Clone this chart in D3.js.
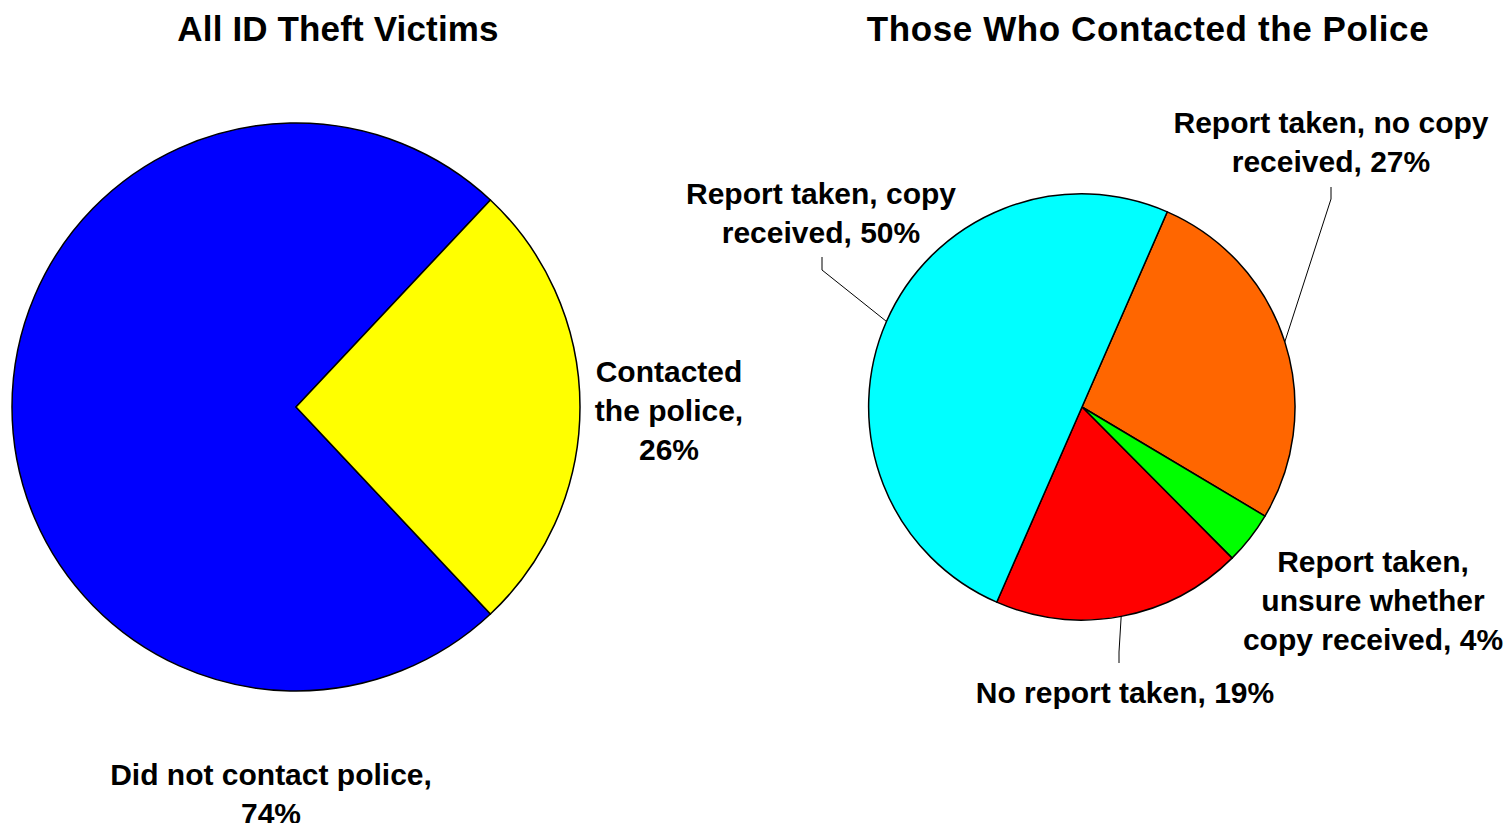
<!DOCTYPE html>
<html><head><meta charset="utf-8">
<script src="https://cdn.jsdelivr.net/npm/d3@7"></script>
<style>body{margin:0;background:#fff}svg{display:block}text{font-family:"Liberation Sans",Arial,sans-serif;font-weight:bold;fill:#000}</style>
</head><body>
<svg id="c" width="1507" height="823"></svg>
<script>
// Data
const leftTitle = "All ID Theft Victims";
const leftCategories = ["Did not contact police", "Contacted the police"];
const leftValues = [74, 26];
const leftColors = ["#0000FF", "#FFFF00"];
const leftLabels = [["Did not contact police,", "74%"], ["Contacted", "the police,", "26%"]];

const rightTitle = "Those Who Contacted the Police";
const rightCategories = ["Report taken, no copy received", "Report taken, unsure whether copy received", "No report taken", "Report taken, copy received"];
const rightValues = [27, 4, 19, 50];
const rightColors = ["#FF6600", "#00FF00", "#FF0000", "#00FFFF"];
const rightLabels = [["Report taken, no copy", "received, 27%"], ["Report taken,", "unsure whether", "copy received, 4%"], ["No report taken, 19%"], ["Report taken, copy", "received, 50%"]];

// Layout (separate from data)
const layout = {
  left: {cx: 296, cy: 407, r: 284, start: 136.8, titleX: 338, titleY: 41, titleLS: 0.15,
         labels: [{x: 271, y: 774}, {x: 669, y: 371}], leaders: [null, null]},
  right: {cx: 1082, cy: 407, r: 213, start: 23.6, titleX: 1148, titleY: 41, titleLS: 0.6,
         labels: [{x: 1331, y: 122}, {x: 1373, y: 561}, {x: 1125, y: 692}, {x: 821, y: 193}],
         leaders: [{elbow: [1331, 199], end: [1331, 187]},
                   null,
                   {elbow: [1119, 652], end: [1119, 663]},
                   {elbow: [822, 270], end: [822, 257]}]}
};
const lineH = 39, fs = 30;
const svg = d3.select("#c");
const deg = Math.PI / 180;

function drawPie(title, values, colors, labels, L) {
  const g = svg.append("g");
  g.append("text").attr("x", L.titleX).attr("y", L.titleY).attr("text-anchor", "middle")
    .attr("font-size", 35).attr("letter-spacing", L.titleLS).text(title);
  const pie = d3.pie().sort(null).value(d => d)
    .startAngle(L.start * deg).endAngle(L.start * deg + 2 * Math.PI);
  const arcs = pie(values);
  const arc = d3.arc().innerRadius(0).outerRadius(L.r);
  const pg = g.append("g").attr("transform", `translate(${L.cx},${L.cy})`);
  pg.selectAll("path").data(arcs).join("path")
    .attr("d", arc).attr("fill", (d, i) => colors[i])
    .attr("stroke", "#000").attr("stroke-width", 1.5).attr("stroke-linejoin", "round");
  // leaders from the slice's mid-angle on the rim
  arcs.forEach((d, i) => {
    const ld = L.leaders[i];
    if (!ld) return;
    const ang = (d.startAngle + d.endAngle) / 2;
    const px = L.cx + Math.sin(ang) * L.r, py = L.cy - Math.cos(ang) * L.r;
    g.append("path").attr("d", d3.line()([[px, py], ld.elbow, ld.end]))
      .attr("fill", "none").attr("stroke", "#000").attr("stroke-width", 1);
  });
  // labels
  labels.forEach((lines, i) => {
    const p = L.labels[i];
    const t = g.append("text").attr("text-anchor", "middle").attr("font-size", fs);
    lines.forEach((s, j) => t.append("tspan").attr("x", p.x).attr("y", p.y + j * lineH + 11).text(s));
  });
}
drawPie(leftTitle, leftValues, leftColors, leftLabels, layout.left);
drawPie(rightTitle, rightValues, rightColors, rightLabels, layout.right);
</script>
</body></html>
